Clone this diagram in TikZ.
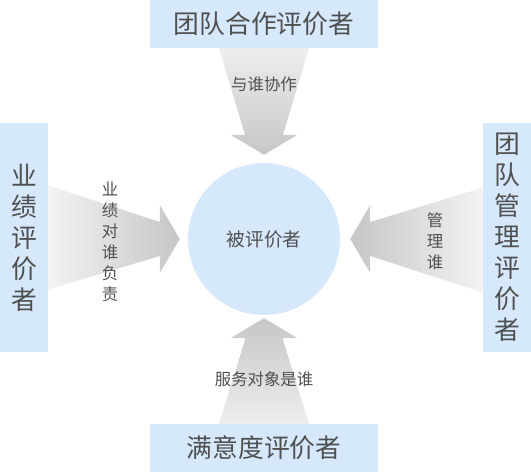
\documentclass[tikz,border=0pt]{standalone}
\usepackage{fontspec}
\setmainfont{Noto Sans CJK SC}
\usetikzlibrary{calc}
\definecolor{boxblue}{RGB}{214,232,252}
\definecolor{txtgray}{RGB}{80,80,80}
\definecolor{arrowlight}{RGB}{238,238,238}
\definecolor{arrowdark}{RGB}{198,198,198}
\tikzset{
  rolebox/.style={fill=boxblue, inner sep=0pt, text=txtgray, align=center, font=\fontsize{22}{26.5}\selectfont},
  hbox/.style={rolebox, minimum width=6.84cm, minimum height=1.44cm},
  vbox/.style={rolebox, minimum width=1.44cm, minimum height=6.87cm},
  relation/.style={text=txtgray, inner sep=0pt, align=center, font=\fontsize{14}{18}\selectfont}
}
\begin{document}
\begin{tikzpicture}[x=0.03cm, y=-0.03cm]
          \useasboundingbox (0,0) rectangle (531,475);
          \node [circle, fill=boxblue, minimum size=4.56cm, inner sep=0pt, text=txtgray, font=\fontsize{16}{19}\selectfont] (evaluee) at (264,239) {被评价者};
          \node [hbox] (teamwork) at (264,24) {团队合作评价者};
          \node [hbox] (satisfaction) at (264,448) {满意度评价者};
          \node [vbox] (performance) at (24,237.5) {业\\绩\\评\\价\\者};
          \node [vbox] (management) at (507,237.5) {团\\队\\管\\理\\评\\价\\者};
          \shade [top color=arrowlight, bottom color=arrowdark]
            ($(teamwork.south)+(-45,0)$) -- ($(teamwork.south)+(45,0)$)
            -- ($(evaluee.north)+(19,-28)$) -- ($(evaluee.north)+(33.5,-28)$)
            -- ($(evaluee.north)+(0,-8)$)
            -- ($(evaluee.north)+(-33.5,-28)$) -- ($(evaluee.north)+(-19,-28)$) -- cycle;
          \shade [top color=arrowdark, bottom color=arrowlight]
            ($(satisfaction.north)+(-45,0)$) -- ($(satisfaction.north)+(45,0)$)
            -- ($(evaluee.south)+(18.5,23)$) -- ($(evaluee.south)+(33.5,23)$)
            -- ($(evaluee.south)+(0,3)$)
            -- ($(evaluee.south)+(-33.5,23)$) -- ($(evaluee.south)+(-18.5,23)$) -- cycle;
          \shade [left color=arrowlight!70!white, right color=arrowdark]
            ($(performance.east)+(0,-52)$) -- ($(evaluee.west)+(-28,-17)$)
            -- ($(evaluee.west)+(-28,-34)$) -- ($(evaluee.west)+(-8,0)$)
            -- ($(evaluee.west)+(-28,34)$) -- ($(evaluee.west)+(-28,17)$)
            -- ($(performance.east)+(0,52)$) -- cycle;
          \shade [left color=arrowdark, right color=arrowlight!70!white]
            ($(management.west)+(0,-50)$) -- ($(evaluee.east)+(30,-17)$)
            -- ($(evaluee.east)+(30,-34)$) -- ($(evaluee.east)+(10,0)$)
            -- ($(evaluee.east)+(30,34)$) -- ($(evaluee.east)+(30,17)$)
            -- ($(management.west)+(0,55)$) -- cycle;
          \node [relation] (cowork) at (264,84) {与谁协作};
          \node [relation] (accountable) at (110,242) {业\\绩\\对\\谁\\负\\责};
          \node [relation] (manages) at (435,241) {管\\理\\谁};
          \node [relation] (serves) at (264,379) {服务对象是谁};
        \end{tikzpicture}
\end{document}
